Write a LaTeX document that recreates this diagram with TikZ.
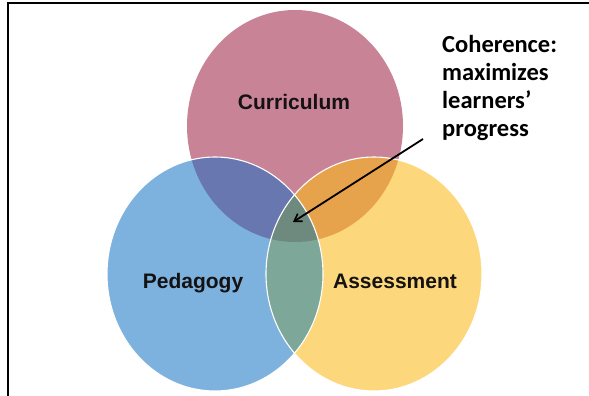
\documentclass[tikz,border=0pt]{standalone}
\usepackage{fontspec}
\setmainfont{Liberation Sans}
\newfontfamily\calfont{Carlito}
\usetikzlibrary{arrows.meta}
\definecolor{pinkC}{RGB}{201,131,150}
\definecolor{blueC}{RGB}{126,178,222}
\definecolor{yellowC}{RGB}{253,215,124}
\definecolor{pbC}{RGB}{104,119,175}
\definecolor{pyC}{RGB}{231,163,75}
\definecolor{byC}{RGB}{125,167,152}
\definecolor{pbyC}{RGB}{110,138,127}
\definecolor{txtC}{RGB}{20,18,18}
\def\ellP{(295,126) ellipse [x radius=108, y radius=116]}
\def\ellB{(215,274) ellipse [x radius=108, y radius=117]}
\def\ellY{(374,274) ellipse [x radius=108, y radius=117]}
\tikzset{
  setlabel/.style={font=\fontsize{21}{25}\selectfont\bfseries, text=txtC, inner sep=0pt},
  notelabel/.style={font=\calfont\fontsize{24.5}{28}\selectfont\bfseries, text=black, align=left, inner sep=0pt},
  frameline/.style={line width=2.5pt, black},
  outline/.style={draw=white, line width=1.1pt},
  pointer/.style={line width=1.8pt, black, -{Straight Barb[length=7pt, width=9pt, line width=1.6pt]}}
}
\begin{document}
\begin{tikzpicture}[x=1pt, y=-1pt]
\useasboundingbox (0,0) rectangle (589,396);
\fill[white] (0,0) rectangle (589,396);
% circles
\fill[pinkC] \ellP;
\fill[blueC] \ellB;
\fill[yellowC] \ellY;
\begin{scope}
  \clip \ellP;
  \fill[pbC] \ellB;
  \fill[pyC] \ellY;
\end{scope}
\begin{scope}
  \clip \ellB;
  \fill[byC] \ellY;
  \clip \ellY;
  \fill[pbyC] \ellP;
\end{scope}
\path[outline] \ellB;
\path[outline] \ellY;
% frame
\draw[frameline] (8,396) -- (8,3) -- (589,3);
% labels
\node[setlabel, anchor=base] (cur) at (294,110) {Curriculum};
\node[setlabel, anchor=base] (ped) at (193,288) {Pedagogy};
\node[setlabel, anchor=base] (ass) at (395,288) {Assessment};
\node[notelabel, anchor=base west] (coh) at (442,136) {Coherence:\\maximizes\\learners’\\progress};
% arrow
\coordinate (astart) at (423,139);
\coordinate (atip) at (293,222);
\draw[pointer] (astart) -- (atip);
\end{tikzpicture}
\end{document}
